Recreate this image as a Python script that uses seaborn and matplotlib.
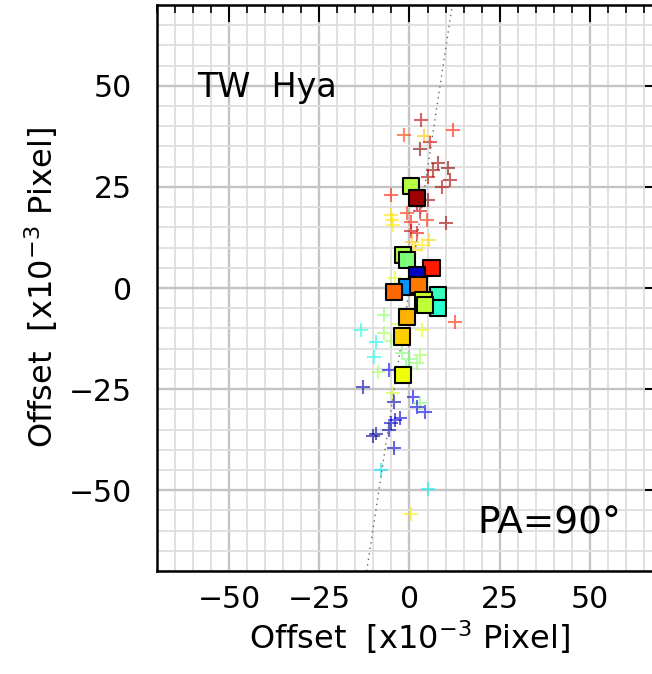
import matplotlib
matplotlib.use("Agg")
import matplotlib.pyplot as plt
from matplotlib.ticker import MultipleLocator
import seaborn as sns
import pandas as pd

# single-epoch offsets (crosses): x, y and colour phase (0..1 on jet)
cross_x = [3.2, 12.0, -1.6, 3.9, 5.8, 2.8, 10.8, 6.6, 11.3, 9.1, 5.2, 8.0,
           -5.2, 5.2, 2.1, 3.0, -0.6, 10.0, 0.3, 4.9, -4.8, -4.5, -5.2, 0.3,
           2.1, 5.3, 3.5, 0.7, 1.5, -3.9, 12.7, -7.2, -13.5, -7.2, -9.4, -9.9,
           -2.0, 0.0, 2.0, 3.0, -1.0, -8.6, -5.8, 3.5, -3.0, -5.0, -13.0, -4.5,
           -4.4, 1.1, 3.0, 2.1, 4.4, -2.5, -3.9, -5.2, -5.8, -9.4, -10.0, -4.4,
           -8.0, 5.2, 0.3]
cross_y = [41.6, 39.0, 37.9, 37.5, 36.0, 34.4, 29.7, 29.2, 26.7, 25.0, 27.5, 31.0,
           23.0, 21.8, 21.0, 19.0, 18.5, 16.0, 16.4, 16.8, 16.8, 15.5, 18.0, 14.0,
           13.6, 11.9, 10.6, 11.5, 9.5, 2.5, -8.4, -6.7, -10.4, -11.2, -13.3, -17.0,
           -16.0, -17.5, -18.5, -16.6, -19.5, -20.7, -20.3, -10.4, -9.0, -13.0, -24.4, -26.0,
           -28.1, -26.9, -28.5, -29.4, -30.6, -32.2, -32.7, -33.5, -35.1, -36.0, -36.5, -39.6,
           -45.0, -49.8, -55.8]
cross_phase = [0.95, 0.88, 0.85, 0.70, 0.92, 1.00, 1.00, 0.97, 0.97, 0.95, 0.95, 0.98,
               0.88, 0.98, 0.97, 0.92, 0.86, 0.97, 0.88, 0.86, 0.67, 0.66, 0.67, 0.93,
               0.90, 0.68, 0.66, 0.70, 0.68, 0.62, 0.87, 0.52, 0.38, 0.55, 0.37, 0.38,
               0.50, 0.50, 0.52, 0.55, 0.48, 0.55, 0.10, 0.64, 0.60, 0.55, 0.05, 0.60,
               0.05, 0.10, 0.50, 0.08, 0.10, 0.08, 0.08, 0.06, 0.05, 0.02, 0.02, 0.07,
               0.35, 0.36, 0.66]

# averaged offsets (squares)
square_x = [0.5, 2.2, -1.7, -0.6, 6.1, 2.1, -0.6, -4.4, 2.5, 8.0, 8.0, 3.9, 4.4, -0.8, -2.0, -1.7]
square_y = [25.2, 22.3, 8.2, 6.9, 4.9, 3.2, 0.3, -1.0, 0.7, -1.7, -5.0, -3.0, -4.2, -7.2, -12.0, -21.5]
square_phase = [0.57, 0.97, 0.56, 0.50, 0.88, 0.06, 0.27, 0.80, 0.78, 0.42, 0.40,
                0.60, 0.58, 0.72, 0.69, 0.64]

trend_slope = 5.9  # dotted axis direction (dy/dx)
target_name = "TW  Hya"
pa_label = "PA=90°"

crosses = pd.DataFrame({"x": cross_x, "y": cross_y, "phase": cross_phase})
squares = pd.DataFrame({"x": square_x, "y": square_y, "phase": square_phase})
jet = matplotlib.colormaps["jet"]

sns.set_theme(style="white")
plt.rcParams["font.family"] = ["DejaVu Sans"]
plt.rcParams["text.color"] = "black"
plt.rcParams["axes.labelcolor"] = "black"
plt.rcParams["xtick.labelcolor"] = "black"
plt.rcParams["ytick.labelcolor"] = "black"

fig = plt.figure(figsize=(6.52, 6.74), dpi=100)
ax = fig.add_axes([0.2408, 0.1528, 0.7745, 0.8398])

ax.set_xlim(-70, 70)
ax.set_ylim(-70, 70)
ax.xaxis.set_major_locator(MultipleLocator(25))
ax.yaxis.set_major_locator(MultipleLocator(25))
ax.xaxis.set_minor_locator(MultipleLocator(5))
ax.yaxis.set_minor_locator(MultipleLocator(5))
ax.set_axisbelow(True)
ax.grid(which="minor", color="#dedede", linewidth=1.3)
ax.grid(which="major", color="#c4c4c4", linewidth=1.7)

ax.axline((0, 0), slope=trend_slope, color="#666666", linestyle=(0, (1, 3)), linewidth=1.0)

sns.scatterplot(data=crosses, x="x", y="y", hue="phase", palette=jet, hue_norm=(0, 1),
                marker="+", s=100, linewidth=1.5, alpha=0.6, legend=False, ax=ax)
sns.scatterplot(data=squares, x="x", y="y", hue="phase", palette=jet, hue_norm=(0, 1),
                marker="s", s=135, edgecolor="black", linewidth=1.5, legend=False, ax=ax,
                zorder=3)

ax.text(-59, 47.3, target_name, fontsize=24, va="baseline", ha="left")
ax.text(58.8, -60.6, pa_label, fontsize=27, va="baseline", ha="right")

ax.tick_params(which="both", direction="in", top=True, right=True, color="black",
               labelsize=21.5)
ax.tick_params(which="major", length=12, width=1.4)
ax.tick_params(which="minor", length=6, width=1.2)
ax.tick_params(axis="x", pad=10)
ax.tick_params(axis="y", pad=18)
for sp in ax.spines.values():
    sp.set_color("black")
    sp.set_linewidth(1.8)

ax.set_xlabel("Offset  [x10$^{-3}$ Pixel]", fontsize=23, labelpad=3)
ax.set_ylabel("Offset  [x10$^{-3}$ Pixel]", fontsize=23, labelpad=6)

fig.savefig("out.png", dpi=100)
